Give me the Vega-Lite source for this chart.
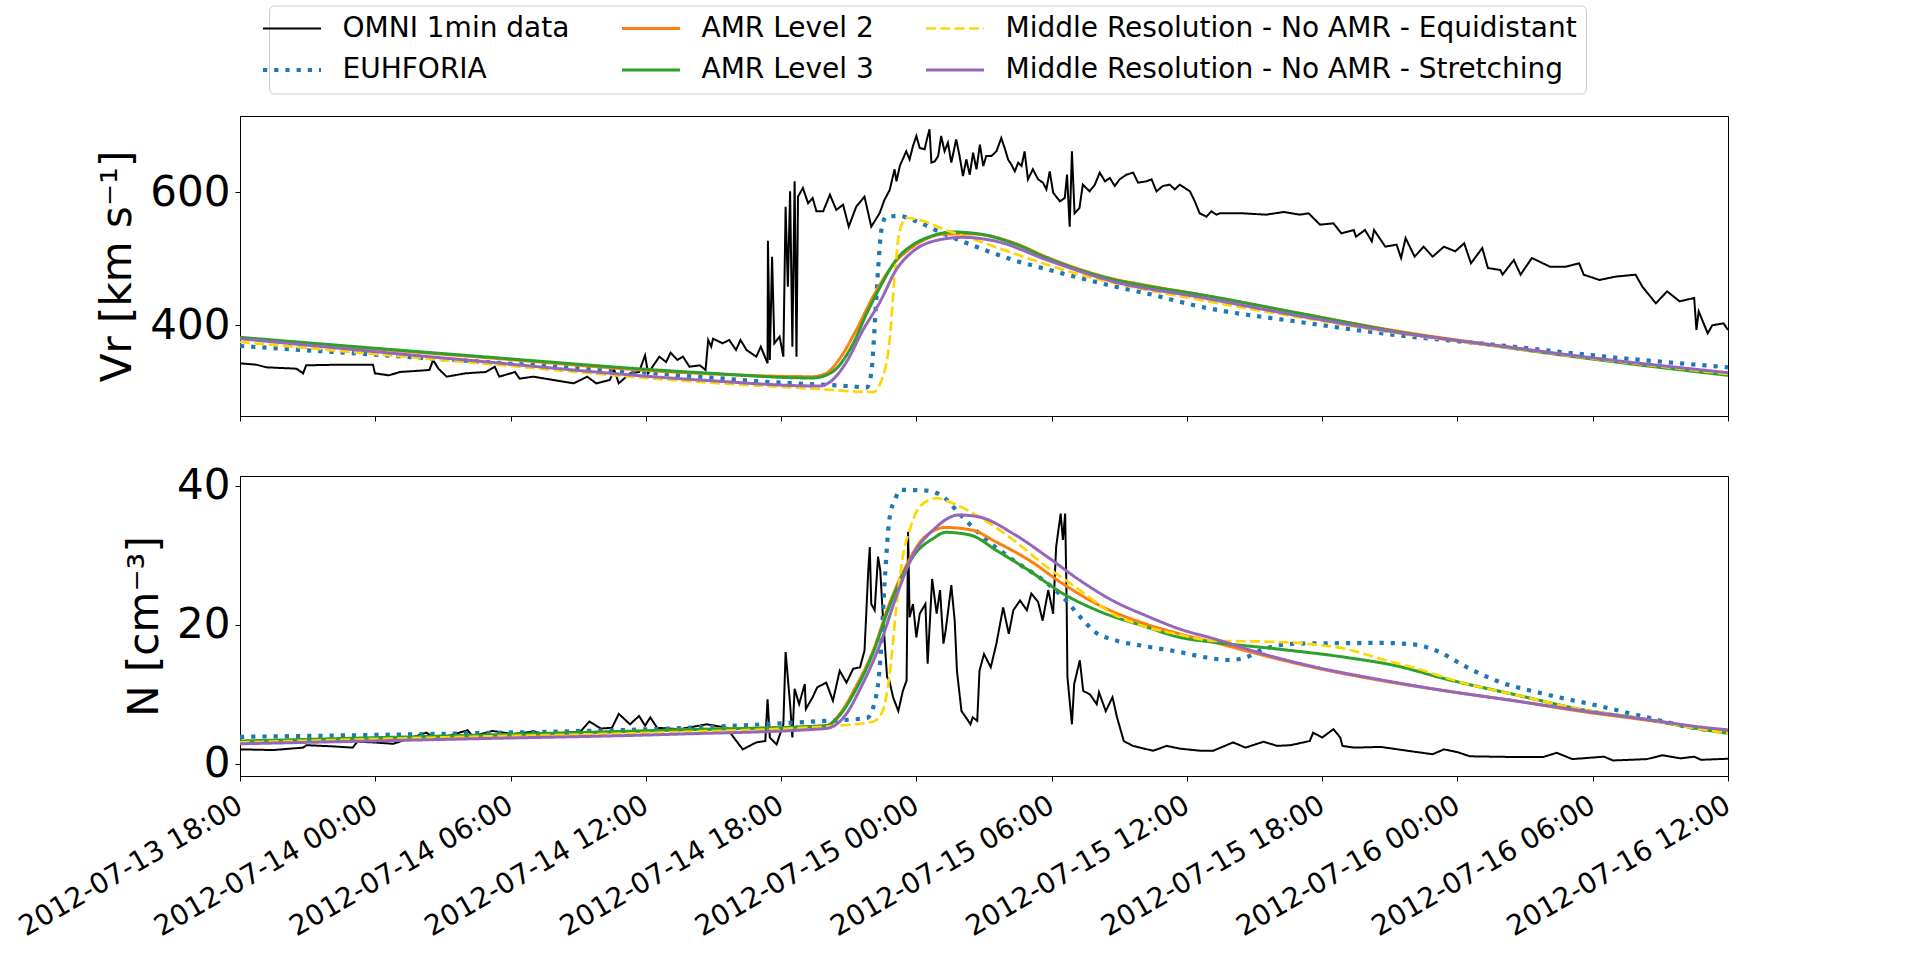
{
"$schema": "https://vega.github.io/schema/vega-lite/v6.json",
"padding": {"left": 13, "top": 5, "right": 5, "bottom": 5},
"background": "white",
"spacing": 60,
"bounds": "flush",
"config": {
 "font": "DejaVu Sans",
 "view": {"stroke": "black", "strokeWidth": 1},
 "axis": {"grid": false, "domainColor": "black", "domainWidth": 1, "tickColor": "black", "tickWidth": 1, "tickSize": 5, "labelColor": "black", "titleColor": "black", "labelFont": "DejaVu Sans", "titleFont": "DejaVu Sans", "titleFontWeight": "normal", "labelFlush": false, "labelOverlap": false, "labelLimit": 1000},
 "line": {"strokeCap": "butt"}
},
"datasets": {
 "names": [
  {"c":"o","name":"OMNI 1min data"},
  {"c":"e","name":"EUHFORIA"},
  {"c":"a2","name":"AMR Level 2"},
  {"c":"a3","name":"AMR Level 3"},
  {"c":"eq","name":"Middle Resolution - No AMR - Equidistant"},
  {"c":"st","name":"Middle Resolution - No AMR - Stretching"}
 ],
 "vr": [
  {"c":"o","t":"2012-07-13T18:00Z","v":343},{"c":"o","t":"2012-07-13T18:43Z","v":341},{"c":"o","t":"2012-07-13T19:10Z","v":337},{"c":"o","t":"2012-07-13T20:30Z","v":335},{"c":"o","t":"2012-07-13T20:48Z","v":328},{"c":"o","t":"2012-07-13T20:56Z","v":340},{"c":"o","t":"2012-07-13T22:24Z","v":341},{"c":"o","t":"2012-07-13T23:54Z","v":341},{"c":"o","t":"2012-07-13T23:59Z","v":328},
  {"c":"o","t":"2012-07-14T00:36Z","v":325},{"c":"o","t":"2012-07-14T01:06Z","v":330},{"c":"o","t":"2012-07-14T02:24Z","v":333},{"c":"o","t":"2012-07-14T02:34Z","v":348},{"c":"o","t":"2012-07-14T02:48Z","v":335},{"c":"o","t":"2012-07-14T03:10Z","v":323},{"c":"o","t":"2012-07-14T04:00Z","v":328},{"c":"o","t":"2012-07-14T04:54Z","v":330},{"c":"o","t":"2012-07-14T05:18Z","v":338},{"c":"o","t":"2012-07-14T05:30Z","v":323},{"c":"o","t":"2012-07-14T06:12Z","v":330},{"c":"o","t":"2012-07-14T06:24Z","v":320},{"c":"o","t":"2012-07-14T07:00Z","v":323},{"c":"o","t":"2012-07-14T07:54Z","v":318},{"c":"o","t":"2012-07-14T08:48Z","v":313},{"c":"o","t":"2012-07-14T09:24Z","v":323},{"c":"o","t":"2012-07-14T09:48Z","v":313},{"c":"o","t":"2012-07-14T10:24Z","v":318},{"c":"o","t":"2012-07-14T10:36Z","v":333},{"c":"o","t":"2012-07-14T10:48Z","v":313},{"c":"o","t":"2012-07-14T11:18Z","v":328},{"c":"o","t":"2012-07-14T11:42Z","v":330},{"c":"o","t":"2012-07-14T11:58Z","v":355},{"c":"o","t":"2012-07-14T12:06Z","v":328},{"c":"o","t":"2012-07-14T12:36Z","v":353},{"c":"o","t":"2012-07-14T12:54Z","v":345},{"c":"o","t":"2012-07-14T13:06Z","v":359},{"c":"o","t":"2012-07-14T13:24Z","v":348},{"c":"o","t":"2012-07-14T13:39Z","v":353},{"c":"o","t":"2012-07-14T13:56Z","v":338},{"c":"o","t":"2012-07-14T14:24Z","v":340},{"c":"o","t":"2012-07-14T14:39Z","v":333},{"c":"o","t":"2012-07-14T14:46Z","v":378},{"c":"o","t":"2012-07-14T14:54Z","v":368},{"c":"o","t":"2012-07-14T14:59Z","v":380},{"c":"o","t":"2012-07-14T15:24Z","v":373},{"c":"o","t":"2012-07-14T15:42Z","v":378},{"c":"o","t":"2012-07-14T16:00Z","v":363},{"c":"o","t":"2012-07-14T16:12Z","v":378},{"c":"o","t":"2012-07-14T16:28Z","v":363},{"c":"o","t":"2012-07-14T16:54Z","v":353},{"c":"o","t":"2012-07-14T17:06Z","v":368},{"c":"o","t":"2012-07-14T17:24Z","v":343},{"c":"o","t":"2012-07-14T17:25Z","v":527},{"c":"o","t":"2012-07-14T17:30Z","v":348},{"c":"o","t":"2012-07-14T17:36Z","v":503},{"c":"o","t":"2012-07-14T17:42Z","v":373},{"c":"o","t":"2012-07-14T17:56Z","v":383},{"c":"o","t":"2012-07-14T18:06Z","v":353},{"c":"o","t":"2012-07-14T18:12Z","v":578},{"c":"o","t":"2012-07-14T18:18Z","v":458},{"c":"o","t":"2012-07-14T18:24Z","v":601},{"c":"o","t":"2012-07-14T18:30Z","v":368},{"c":"o","t":"2012-07-14T18:36Z","v":616},{"c":"o","t":"2012-07-14T18:41Z","v":353},{"c":"o","t":"2012-07-14T18:45Z","v":593},{"c":"o","t":"2012-07-14T18:58Z","v":606},{"c":"o","t":"2012-07-14T19:12Z","v":583},{"c":"o","t":"2012-07-14T19:24Z","v":591},{"c":"o","t":"2012-07-14T19:34Z","v":571},{"c":"o","t":"2012-07-14T19:52Z","v":571},{"c":"o","t":"2012-07-14T20:10Z","v":596},{"c":"o","t":"2012-07-14T20:27Z","v":573},{"c":"o","t":"2012-07-14T20:45Z","v":581},{"c":"o","t":"2012-07-14T21:00Z","v":548},{"c":"o","t":"2012-07-14T21:20Z","v":578},{"c":"o","t":"2012-07-14T21:42Z","v":593},{"c":"o","t":"2012-07-14T22:00Z","v":548},
  {"c":"o","t":"2012-07-14T22:22Z","v":568},{"c":"o","t":"2012-07-14T22:35Z","v":588},{"c":"o","t":"2012-07-14T22:49Z","v":603},{"c":"o","t":"2012-07-14T23:02Z","v":634},{"c":"o","t":"2012-07-14T23:07Z","v":616},{"c":"o","t":"2012-07-14T23:16Z","v":639},{"c":"o","t":"2012-07-14T23:33Z","v":661},{"c":"o","t":"2012-07-14T23:42Z","v":649},{"c":"o","t":"2012-07-14T23:51Z","v":669},
  {"c":"o","t":"2012-07-15T00:00Z","v":684},{"c":"o","t":"2012-07-15T00:09Z","v":666},{"c":"o","t":"2012-07-15T00:22Z","v":664},{"c":"o","t":"2012-07-15T00:28Z","v":679},{"c":"o","t":"2012-07-15T00:35Z","v":694},{"c":"o","t":"2012-07-15T00:40Z","v":644},{"c":"o","t":"2012-07-15T00:49Z","v":646},{"c":"o","t":"2012-07-15T00:58Z","v":654},{"c":"o","t":"2012-07-15T01:06Z","v":684},{"c":"o","t":"2012-07-15T01:15Z","v":661},{"c":"o","t":"2012-07-15T01:24Z","v":674},{"c":"o","t":"2012-07-15T01:33Z","v":644},{"c":"o","t":"2012-07-15T01:46Z","v":679},{"c":"o","t":"2012-07-15T01:55Z","v":654},{"c":"o","t":"2012-07-15T02:04Z","v":624},{"c":"o","t":"2012-07-15T02:13Z","v":649},{"c":"o","t":"2012-07-15T02:22Z","v":626},{"c":"o","t":"2012-07-15T02:31Z","v":659},{"c":"o","t":"2012-07-15T02:40Z","v":634},{"c":"o","t":"2012-07-15T02:49Z","v":671},{"c":"o","t":"2012-07-15T02:58Z","v":639},{"c":"o","t":"2012-07-15T03:06Z","v":654},{"c":"o","t":"2012-07-15T03:20Z","v":654},{"c":"o","t":"2012-07-15T03:33Z","v":661},{"c":"o","t":"2012-07-15T03:46Z","v":681},{"c":"o","t":"2012-07-15T03:55Z","v":666},{"c":"o","t":"2012-07-15T04:04Z","v":649},{"c":"o","t":"2012-07-15T04:13Z","v":641},{"c":"o","t":"2012-07-15T04:22Z","v":631},{"c":"o","t":"2012-07-15T04:31Z","v":644},{"c":"o","t":"2012-07-15T04:40Z","v":639},{"c":"o","t":"2012-07-15T04:48Z","v":661},{"c":"o","t":"2012-07-15T04:57Z","v":619},{"c":"o","t":"2012-07-15T05:10Z","v":634},{"c":"o","t":"2012-07-15T05:24Z","v":619},{"c":"o","t":"2012-07-15T05:37Z","v":614},{"c":"o","t":"2012-07-15T05:46Z","v":604},{"c":"o","t":"2012-07-15T05:55Z","v":631},{"c":"o","t":"2012-07-15T06:04Z","v":599},{"c":"o","t":"2012-07-15T06:22Z","v":586},{"c":"o","t":"2012-07-15T06:35Z","v":591},{"c":"o","t":"2012-07-15T06:41Z","v":626},{"c":"o","t":"2012-07-15T06:48Z","v":548},{"c":"o","t":"2012-07-15T06:54Z","v":661},{"c":"o","t":"2012-07-15T07:01Z","v":568},{"c":"o","t":"2012-07-15T07:14Z","v":576},{"c":"o","t":"2012-07-15T07:23Z","v":611},{"c":"o","t":"2012-07-15T07:41Z","v":601},{"c":"o","t":"2012-07-15T07:55Z","v":611},{"c":"o","t":"2012-07-15T08:08Z","v":629},{"c":"o","t":"2012-07-15T08:22Z","v":616},{"c":"o","t":"2012-07-15T08:35Z","v":621},{"c":"o","t":"2012-07-15T08:48Z","v":609},{"c":"o","t":"2012-07-15T09:01Z","v":619},{"c":"o","t":"2012-07-15T09:19Z","v":626},{"c":"o","t":"2012-07-15T09:37Z","v":629},{"c":"o","t":"2012-07-15T09:50Z","v":614},{"c":"o","t":"2012-07-15T10:12Z","v":616},{"c":"o","t":"2012-07-15T10:26Z","v":619},{"c":"o","t":"2012-07-15T10:39Z","v":601},{"c":"o","t":"2012-07-15T10:56Z","v":609},{"c":"o","t":"2012-07-15T11:14Z","v":611},{"c":"o","t":"2012-07-15T11:28Z","v":604},{"c":"o","t":"2012-07-15T11:41Z","v":611},{"c":"o","t":"2012-07-15T12:08Z","v":601},{"c":"o","t":"2012-07-15T12:21Z","v":586},{"c":"o","t":"2012-07-15T12:34Z","v":568},{"c":"o","t":"2012-07-15T12:52Z","v":563},{"c":"o","t":"2012-07-15T13:05Z","v":571},{"c":"o","t":"2012-07-15T13:19Z","v":566},{"c":"o","t":"2012-07-15T13:28Z","v":568},{"c":"o","t":"2012-07-15T14:30Z","v":568},{"c":"o","t":"2012-07-15T15:30Z","v":566},{"c":"o","t":"2012-07-15T16:18Z","v":570},{"c":"o","t":"2012-07-15T17:00Z","v":566},{"c":"o","t":"2012-07-15T17:24Z","v":568},{"c":"o","t":"2012-07-15T17:54Z","v":551},{"c":"o","t":"2012-07-15T18:30Z","v":553},{"c":"o","t":"2012-07-15T18:51Z","v":538},{"c":"o","t":"2012-07-15T19:24Z","v":543},{"c":"o","t":"2012-07-15T19:30Z","v":533},{"c":"o","t":"2012-07-15T19:54Z","v":543},{"c":"o","t":"2012-07-15T20:12Z","v":526},{"c":"o","t":"2012-07-15T20:18Z","v":543},{"c":"o","t":"2012-07-15T20:48Z","v":518},{"c":"o","t":"2012-07-15T21:18Z","v":521},{"c":"o","t":"2012-07-15T21:30Z","v":501},{"c":"o","t":"2012-07-15T21:42Z","v":531},{"c":"o","t":"2012-07-15T22:06Z","v":503},{"c":"o","t":"2012-07-15T22:30Z","v":518},{"c":"o","t":"2012-07-15T22:54Z","v":503},{"c":"o","t":"2012-07-15T23:24Z","v":518},{"c":"o","t":"2012-07-15T23:54Z","v":511},
  {"c":"o","t":"2012-07-16T00:18Z","v":523},{"c":"o","t":"2012-07-16T00:36Z","v":493},{"c":"o","t":"2012-07-16T01:06Z","v":516},{"c":"o","t":"2012-07-16T01:21Z","v":486},{"c":"o","t":"2012-07-16T01:54Z","v":483},{"c":"o","t":"2012-07-16T02:00Z","v":476},{"c":"o","t":"2012-07-16T02:30Z","v":498},{"c":"o","t":"2012-07-16T02:48Z","v":476},{"c":"o","t":"2012-07-16T03:18Z","v":501},{"c":"o","t":"2012-07-16T04:06Z","v":488},{"c":"o","t":"2012-07-16T04:48Z","v":488},{"c":"o","t":"2012-07-16T05:24Z","v":493},{"c":"o","t":"2012-07-16T05:36Z","v":476},{"c":"o","t":"2012-07-16T06:18Z","v":468},{"c":"o","t":"2012-07-16T07:00Z","v":473},{"c":"o","t":"2012-07-16T07:54Z","v":476},{"c":"o","t":"2012-07-16T08:12Z","v":458},{"c":"o","t":"2012-07-16T08:48Z","v":433},{"c":"o","t":"2012-07-16T09:18Z","v":451},{"c":"o","t":"2012-07-16T09:51Z","v":436},{"c":"o","t":"2012-07-16T10:30Z","v":441},{"c":"o","t":"2012-07-16T10:36Z","v":393},{"c":"o","t":"2012-07-16T10:42Z","v":421},{"c":"o","t":"2012-07-16T11:06Z","v":388},{"c":"o","t":"2012-07-16T11:18Z","v":400},{"c":"o","t":"2012-07-16T11:48Z","v":403},{"c":"o","t":"2012-07-16T12:00Z","v":393},

  {"c":"e","t":"2012-07-13T18:00Z","v":369},{"c":"e","t":"2012-07-14T04:00Z","v":347},{"c":"e","t":"2012-07-14T14:24Z","v":323},{"c":"e","t":"2012-07-14T17:00Z","v":316},{"c":"e","t":"2012-07-14T20:54Z","v":309},{"c":"e","t":"2012-07-14T21:48Z","v":307},{"c":"e","t":"2012-07-14T22:00Z","v":328},{"c":"e","t":"2012-07-14T22:09Z","v":398},{"c":"e","t":"2012-07-14T22:18Z","v":483},{"c":"e","t":"2012-07-14T22:27Z","v":543},{"c":"e","t":"2012-07-14T22:40Z","v":563},{"c":"e","t":"2012-07-14T23:16Z","v":564},{"c":"e","t":"2012-07-14T23:51Z","v":558},{"c":"e","t":"2012-07-15T01:18Z","v":536},{"c":"e","t":"2012-07-15T02:48Z","v":516},{"c":"e","t":"2012-07-15T04:18Z","v":498},{"c":"e","t":"2012-07-15T05:48Z","v":484},{"c":"e","t":"2012-07-15T07:15Z","v":471},{"c":"e","t":"2012-07-15T08:42Z","v":459},{"c":"e","t":"2012-07-15T10:12Z","v":448},{"c":"e","t":"2012-07-15T12:36Z","v":428},{"c":"e","t":"2012-07-15T17:00Z","v":405},{"c":"e","t":"2012-07-15T21:24Z","v":385},{"c":"e","t":"2012-07-16T01:54Z","v":370},{"c":"e","t":"2012-07-16T06:18Z","v":354},{"c":"e","t":"2012-07-16T12:00Z","v":337},

  {"c":"a2","t":"2012-07-13T18:00Z","v":381},{"c":"a2","t":"2012-07-14T04:00Z","v":354},{"c":"a2","t":"2012-07-14T14:24Z","v":328},{"c":"a2","t":"2012-07-14T19:24Z","v":323},{"c":"a2","t":"2012-07-14T20:00Z","v":328},{"c":"a2","t":"2012-07-14T20:36Z","v":350},{"c":"a2","t":"2012-07-14T21:20Z","v":393},{"c":"a2","t":"2012-07-14T22:05Z","v":443},{"c":"a2","t":"2012-07-14T22:58Z","v":491},{"c":"a2","t":"2012-07-14T23:51Z","v":518},{"c":"a2","t":"2012-07-15T01:18Z","v":537},{"c":"a2","t":"2012-07-15T02:30Z","v":537},{"c":"a2","t":"2012-07-15T04:18Z","v":524},{"c":"a2","t":"2012-07-15T05:48Z","v":502},{"c":"a2","t":"2012-07-15T07:15Z","v":484},{"c":"a2","t":"2012-07-15T08:42Z","v":470},{"c":"a2","t":"2012-07-15T10:12Z","v":460},{"c":"a2","t":"2012-07-15T12:36Z","v":446},{"c":"a2","t":"2012-07-15T17:00Z","v":418},{"c":"a2","t":"2012-07-15T21:24Z","v":391},{"c":"a2","t":"2012-07-16T01:54Z","v":369},{"c":"a2","t":"2012-07-16T06:18Z","v":349},{"c":"a2","t":"2012-07-16T12:00Z","v":327},

  {"c":"a3","t":"2012-07-13T18:00Z","v":382},{"c":"a3","t":"2012-07-14T04:00Z","v":355},{"c":"a3","t":"2012-07-14T14:24Z","v":329},{"c":"a3","t":"2012-07-14T19:24Z","v":321},{"c":"a3","t":"2012-07-14T19:54Z","v":324},{"c":"a3","t":"2012-07-14T20:27Z","v":335},{"c":"a3","t":"2012-07-14T21:12Z","v":373},{"c":"a3","t":"2012-07-14T21:48Z","v":418},{"c":"a3","t":"2012-07-14T22:24Z","v":458},{"c":"a3","t":"2012-07-14T23:06Z","v":498},{"c":"a3","t":"2012-07-14T23:51Z","v":521},{"c":"a3","t":"2012-07-15T00:36Z","v":533},{"c":"a3","t":"2012-07-15T01:36Z","v":540},{"c":"a3","t":"2012-07-15T02:48Z","v":537},{"c":"a3","t":"2012-07-15T04:18Z","v":523},{"c":"a3","t":"2012-07-15T05:48Z","v":501},{"c":"a3","t":"2012-07-15T07:15Z","v":483},{"c":"a3","t":"2012-07-15T08:42Z","v":469},{"c":"a3","t":"2012-07-15T10:12Z","v":459},{"c":"a3","t":"2012-07-15T12:36Z","v":446},{"c":"a3","t":"2012-07-15T17:00Z","v":418},{"c":"a3","t":"2012-07-15T21:24Z","v":390},{"c":"a3","t":"2012-07-16T01:54Z","v":368},{"c":"a3","t":"2012-07-16T06:18Z","v":348},{"c":"a3","t":"2012-07-16T12:00Z","v":325},

  {"c":"eq","t":"2012-07-13T18:00Z","v":375},{"c":"eq","t":"2012-07-14T04:00Z","v":345},{"c":"eq","t":"2012-07-14T14:24Z","v":315},{"c":"eq","t":"2012-07-14T19:24Z","v":305},{"c":"eq","t":"2012-07-14T22:05Z","v":300},{"c":"eq","t":"2012-07-14T22:24Z","v":313},{"c":"eq","t":"2012-07-14T22:48Z","v":373},{"c":"eq","t":"2012-07-14T23:02Z","v":473},{"c":"eq","t":"2012-07-14T23:16Z","v":543},{"c":"eq","t":"2012-07-14T23:34Z","v":561},{"c":"eq","t":"2012-07-15T00:09Z","v":558},{"c":"eq","t":"2012-07-15T01:18Z","v":543},{"c":"eq","t":"2012-07-15T02:48Z","v":526},{"c":"eq","t":"2012-07-15T04:18Z","v":508},{"c":"eq","t":"2012-07-15T05:48Z","v":491},{"c":"eq","t":"2012-07-15T07:15Z","v":476},{"c":"eq","t":"2012-07-15T08:42Z","v":464},{"c":"eq","t":"2012-07-15T12:36Z","v":438},{"c":"eq","t":"2012-07-15T17:00Z","v":412},{"c":"eq","t":"2012-07-15T21:24Z","v":388},{"c":"eq","t":"2012-07-16T01:54Z","v":368},{"c":"eq","t":"2012-07-16T06:18Z","v":349},{"c":"eq","t":"2012-07-16T12:00Z","v":327},

  {"c":"st","t":"2012-07-13T18:00Z","v":380},{"c":"st","t":"2012-07-14T04:00Z","v":348},{"c":"st","t":"2012-07-14T14:24Z","v":318},{"c":"st","t":"2012-07-14T19:42Z","v":309},{"c":"st","t":"2012-07-14T20:10Z","v":315},{"c":"st","t":"2012-07-14T20:54Z","v":345},{"c":"st","t":"2012-07-14T21:36Z","v":391},{"c":"st","t":"2012-07-14T22:24Z","v":436},{"c":"st","t":"2012-07-14T23:06Z","v":483},{"c":"st","t":"2012-07-14T23:51Z","v":511},{"c":"st","t":"2012-07-15T00:44Z","v":526},{"c":"st","t":"2012-07-15T02:04Z","v":532},{"c":"st","t":"2012-07-15T03:33Z","v":526},{"c":"st","t":"2012-07-15T05:48Z","v":498},{"c":"st","t":"2012-07-15T08:42Z","v":466},{"c":"st","t":"2012-07-15T12:36Z","v":442},{"c":"st","t":"2012-07-15T17:00Z","v":414},{"c":"st","t":"2012-07-15T21:24Z","v":389},{"c":"st","t":"2012-07-16T01:54Z","v":369},{"c":"st","t":"2012-07-16T06:18Z","v":350},{"c":"st","t":"2012-07-16T12:00Z","v":329}
 ],
 "nd": [
  {"c":"o","t":"2012-07-13T18:00Z","n":2.1},{"c":"o","t":"2012-07-13T19:28Z","n":2.0},{"c":"o","t":"2012-07-13T20:48Z","n":2.35},{"c":"o","t":"2012-07-13T20:57Z","n":2.7},{"c":"o","t":"2012-07-13T21:59Z","n":2.55},{"c":"o","t":"2012-07-13T23:00Z","n":2.35},{"c":"o","t":"2012-07-13T23:12Z","n":3.2},{"c":"o","t":"2012-07-13T23:54Z","n":3.1},
  {"c":"o","t":"2012-07-14T00:48Z","n":2.9},{"c":"o","t":"2012-07-14T02:16Z","n":4.5},{"c":"o","t":"2012-07-14T02:30Z","n":4.0},{"c":"o","t":"2012-07-14T03:12Z","n":4.0},{"c":"o","t":"2012-07-14T04:06Z","n":4.85},{"c":"o","t":"2012-07-14T04:18Z","n":4.0},{"c":"o","t":"2012-07-14T05:12Z","n":4.75},{"c":"o","t":"2012-07-14T06:06Z","n":4.3},{"c":"o","t":"2012-07-14T07:00Z","n":4.65},{"c":"o","t":"2012-07-14T07:36Z","n":4.3},{"c":"o","t":"2012-07-14T09:06Z","n":4.65},{"c":"o","t":"2012-07-14T09:30Z","n":6.1},{"c":"o","t":"2012-07-14T10:00Z","n":5.1},{"c":"o","t":"2012-07-14T10:30Z","n":5.2},{"c":"o","t":"2012-07-14T10:48Z","n":7.2},{"c":"o","t":"2012-07-14T11:18Z","n":5.7},{"c":"o","t":"2012-07-14T11:42Z","n":6.9},{"c":"o","t":"2012-07-14T11:58Z","n":5.5},{"c":"o","t":"2012-07-14T12:12Z","n":6.7},{"c":"o","t":"2012-07-14T12:30Z","n":5.2},{"c":"o","t":"2012-07-14T13:30Z","n":5.0},{"c":"o","t":"2012-07-14T14:42Z","n":5.7},{"c":"o","t":"2012-07-14T15:36Z","n":5.2},{"c":"o","t":"2012-07-14T15:54Z","n":3.8},{"c":"o","t":"2012-07-14T16:18Z","n":2.1},{"c":"o","t":"2012-07-14T16:54Z","n":3.1},{"c":"o","t":"2012-07-14T17:18Z","n":3.3},{"c":"o","t":"2012-07-14T17:24Z","n":9.3},{"c":"o","t":"2012-07-14T17:30Z","n":3.8},{"c":"o","t":"2012-07-14T17:48Z","n":2.8},{"c":"o","t":"2012-07-14T18:06Z","n":5.7},{"c":"o","t":"2012-07-14T18:12Z","n":16.1},{"c":"o","t":"2012-07-14T18:24Z","n":8.6},{"c":"o","t":"2012-07-14T18:30Z","n":3.8},{"c":"o","t":"2012-07-14T18:36Z","n":10.8},{"c":"o","t":"2012-07-14T18:48Z","n":8.6},{"c":"o","t":"2012-07-14T19:03Z","n":11.5},{"c":"o","t":"2012-07-14T19:06Z","n":7.9},{"c":"o","t":"2012-07-14T19:24Z","n":9.6},{"c":"o","t":"2012-07-14T19:36Z","n":11.0},{"c":"o","t":"2012-07-14T20:00Z","n":11.7},{"c":"o","t":"2012-07-14T20:18Z","n":9.1},{"c":"o","t":"2012-07-14T20:36Z","n":13.4},{"c":"o","t":"2012-07-14T20:54Z","n":11.7},{"c":"o","t":"2012-07-14T21:12Z","n":13.7},{"c":"o","t":"2012-07-14T21:30Z","n":13.9},{"c":"o","t":"2012-07-14T21:42Z","n":16.3},{"c":"o","t":"2012-07-14T21:52Z","n":27.8},{"c":"o","t":"2012-07-14T21:56Z","n":31.2},{"c":"o","t":"2012-07-14T22:00Z","n":23.0},{"c":"o","t":"2012-07-14T22:09Z","n":22.1},{"c":"o","t":"2012-07-14T22:18Z","n":29.8},{"c":"o","t":"2012-07-14T22:24Z","n":27.8},{"c":"o","t":"2012-07-14T22:30Z","n":22.1},{"c":"o","t":"2012-07-14T22:42Z","n":12.5},{"c":"o","t":"2012-07-14T22:48Z","n":12.0},{"c":"o","t":"2012-07-14T22:58Z","n":9.6},{"c":"o","t":"2012-07-14T23:12Z","n":7.6},{"c":"o","t":"2012-07-14T23:24Z","n":10.5},{"c":"o","t":"2012-07-14T23:34Z","n":12.0},{"c":"o","t":"2012-07-14T23:38Z","n":33.4},{"c":"o","t":"2012-07-14T23:42Z","n":21.1},{"c":"o","t":"2012-07-14T23:51Z","n":23.0},
  {"c":"o","t":"2012-07-15T00:00Z","n":18.2},{"c":"o","t":"2012-07-15T00:09Z","n":21.6},{"c":"o","t":"2012-07-15T00:24Z","n":23.0},{"c":"o","t":"2012-07-15T00:30Z","n":14.4},{"c":"o","t":"2012-07-15T00:42Z","n":26.6},{"c":"o","t":"2012-07-15T00:54Z","n":21.6},{"c":"o","t":"2012-07-15T01:03Z","n":25.0},{"c":"o","t":"2012-07-15T01:12Z","n":17.3},{"c":"o","t":"2012-07-15T01:18Z","n":19.2},{"c":"o","t":"2012-07-15T01:33Z","n":25.7},{"c":"o","t":"2012-07-15T01:42Z","n":20.6},{"c":"o","t":"2012-07-15T01:48Z","n":13.4},{"c":"o","t":"2012-07-15T02:00Z","n":7.6},{"c":"o","t":"2012-07-15T02:12Z","n":6.7},{"c":"o","t":"2012-07-15T02:24Z","n":5.7},{"c":"o","t":"2012-07-15T02:30Z","n":6.7},{"c":"o","t":"2012-07-15T02:42Z","n":6.2},{"c":"o","t":"2012-07-15T02:48Z","n":13.4},{"c":"o","t":"2012-07-15T03:00Z","n":15.8},{"c":"o","t":"2012-07-15T03:18Z","n":13.9},{"c":"o","t":"2012-07-15T03:33Z","n":17.3},{"c":"o","t":"2012-07-15T03:51Z","n":22.5},{"c":"o","t":"2012-07-15T04:06Z","n":18.7},{"c":"o","t":"2012-07-15T04:18Z","n":22.1},{"c":"o","t":"2012-07-15T04:36Z","n":23.5},{"c":"o","t":"2012-07-15T04:54Z","n":22.1},{"c":"o","t":"2012-07-15T05:06Z","n":24.5},{"c":"o","t":"2012-07-15T05:24Z","n":23.3},{"c":"o","t":"2012-07-15T05:36Z","n":20.6},{"c":"o","t":"2012-07-15T05:51Z","n":25.0},{"c":"o","t":"2012-07-15T06:04Z","n":21.6},{"c":"o","t":"2012-07-15T06:12Z","n":31.2},{"c":"o","t":"2012-07-15T06:24Z","n":36.0},{"c":"o","t":"2012-07-15T06:30Z","n":32.2},{"c":"o","t":"2012-07-15T06:36Z","n":36.0},{"c":"o","t":"2012-07-15T06:40Z","n":23.0},{"c":"o","t":"2012-07-15T06:42Z","n":12.5},{"c":"o","t":"2012-07-15T06:54Z","n":5.7},{"c":"o","t":"2012-07-15T07:00Z","n":11.5},{"c":"o","t":"2012-07-15T07:15Z","n":14.9},{"c":"o","t":"2012-07-15T07:24Z","n":10.5},{"c":"o","t":"2012-07-15T07:42Z","n":10.0},{"c":"o","t":"2012-07-15T08:00Z","n":8.6},{"c":"o","t":"2012-07-15T08:06Z","n":10.3},{"c":"o","t":"2012-07-15T08:24Z","n":7.6},{"c":"o","t":"2012-07-15T08:42Z","n":9.6},{"c":"o","t":"2012-07-15T08:54Z","n":6.7},{"c":"o","t":"2012-07-15T09:12Z","n":3.3},{"c":"o","t":"2012-07-15T09:36Z","n":2.6},{"c":"o","t":"2012-07-15T10:30Z","n":1.9},{"c":"o","t":"2012-07-15T11:06Z","n":2.6},{"c":"o","t":"2012-07-15T11:42Z","n":2.2},{"c":"o","t":"2012-07-15T12:36Z","n":1.9},{"c":"o","t":"2012-07-15T13:10Z","n":1.9},{"c":"o","t":"2012-07-15T14:03Z","n":3.1},{"c":"o","t":"2012-07-15T14:36Z","n":2.35},{"c":"o","t":"2012-07-15T15:24Z","n":3.2},{"c":"o","t":"2012-07-15T16:00Z","n":2.6},{"c":"o","t":"2012-07-15T16:36Z","n":2.7},{"c":"o","t":"2012-07-15T17:27Z","n":3.3},{"c":"o","t":"2012-07-15T17:36Z","n":4.5},{"c":"o","t":"2012-07-15T18:00Z","n":3.8},{"c":"o","t":"2012-07-15T18:30Z","n":5.0},{"c":"o","t":"2012-07-15T18:48Z","n":3.8},{"c":"o","t":"2012-07-15T18:54Z","n":2.6},{"c":"o","t":"2012-07-15T19:24Z","n":2.35},{"c":"o","t":"2012-07-15T20:36Z","n":2.45},{"c":"o","t":"2012-07-15T22:00Z","n":1.8},{"c":"o","t":"2012-07-15T22:54Z","n":1.4},{"c":"o","t":"2012-07-15T23:24Z","n":2.1},
  {"c":"o","t":"2012-07-16T00:00Z","n":1.7},{"c":"o","t":"2012-07-16T00:33Z","n":1.1},{"c":"o","t":"2012-07-16T02:30Z","n":1.0},{"c":"o","t":"2012-07-16T03:48Z","n":1.0},{"c":"o","t":"2012-07-16T04:24Z","n":1.6},{"c":"o","t":"2012-07-16T05:06Z","n":0.7},{"c":"o","t":"2012-07-16T06:30Z","n":1.05},{"c":"o","t":"2012-07-16T06:54Z","n":0.5},{"c":"o","t":"2012-07-16T08:24Z","n":0.7},{"c":"o","t":"2012-07-16T09:06Z","n":1.25},{"c":"o","t":"2012-07-16T09:54Z","n":0.8},{"c":"o","t":"2012-07-16T10:30Z","n":1.05},{"c":"o","t":"2012-07-16T10:48Z","n":0.6},{"c":"o","t":"2012-07-16T12:00Z","n":0.75},

  {"c":"e","t":"2012-07-13T18:00Z","n":3.9},{"c":"e","t":"2012-07-14T04:00Z","n":4.4},{"c":"e","t":"2012-07-14T13:30Z","n":5.15},{"c":"e","t":"2012-07-14T19:24Z","n":6.1},{"c":"e","t":"2012-07-14T21:48Z","n":6.6},{"c":"e","t":"2012-07-14T22:05Z","n":8.1},{"c":"e","t":"2012-07-14T22:24Z","n":14.9},{"c":"e","t":"2012-07-14T22:36Z","n":26.4},{"c":"e","t":"2012-07-14T22:48Z","n":35.1},{"c":"e","t":"2012-07-14T23:06Z","n":38.4},{"c":"e","t":"2012-07-14T23:18Z","n":39.4},{"c":"e","t":"2012-07-15T00:27Z","n":39.3},{"c":"e","t":"2012-07-15T01:12Z","n":38.4},{"c":"e","t":"2012-07-15T01:54Z","n":36.0},{"c":"e","t":"2012-07-15T02:48Z","n":33.1},{"c":"e","t":"2012-07-15T04:18Z","n":29.3},{"c":"e","t":"2012-07-15T05:48Z","n":26.0},{"c":"e","t":"2012-07-15T06:30Z","n":24.0},{"c":"e","t":"2012-07-15T07:15Z","n":21.2},{"c":"e","t":"2012-07-15T08:00Z","n":18.8},{"c":"e","t":"2012-07-15T08:42Z","n":17.9},{"c":"e","t":"2012-07-15T10:12Z","n":16.9},{"c":"e","t":"2012-07-15T11:41Z","n":16.1},{"c":"e","t":"2012-07-15T12:52Z","n":15.3},{"c":"e","t":"2012-07-15T13:54Z","n":14.95},{"c":"e","t":"2012-07-15T14:36Z","n":15.3},{"c":"e","t":"2012-07-15T15:24Z","n":16.5},{"c":"e","t":"2012-07-15T16:54Z","n":17.3},{"c":"e","t":"2012-07-15T18:18Z","n":17.35},{"c":"e","t":"2012-07-15T20:36Z","n":17.4},{"c":"e","t":"2012-07-15T22:00Z","n":17.2},{"c":"e","t":"2012-07-15T23:12Z","n":16.1},{"c":"e","t":"2012-07-16T00:18Z","n":14.1},{"c":"e","t":"2012-07-16T01:42Z","n":12.0},{"c":"e","t":"2012-07-16T03:57Z","n":10.0},{"c":"e","t":"2012-07-16T06:12Z","n":8.4},{"c":"e","t":"2012-07-16T08:24Z","n":6.7},{"c":"e","t":"2012-07-16T10:48Z","n":5.0},{"c":"e","t":"2012-07-16T12:00Z","n":4.6},

  {"c":"a2","t":"2012-07-13T18:00Z","n":3.1},{"c":"a2","t":"2012-07-14T04:00Z","n":3.9},{"c":"a2","t":"2012-07-14T13:30Z","n":4.9},{"c":"a2","t":"2012-07-14T20:00Z","n":5.5},{"c":"a2","t":"2012-07-14T20:36Z","n":7.2},{"c":"a2","t":"2012-07-14T21:18Z","n":11.0},{"c":"a2","t":"2012-07-14T22:05Z","n":16.3},{"c":"a2","t":"2012-07-14T22:48Z","n":23.0},{"c":"a2","t":"2012-07-14T23:34Z","n":28.6},{"c":"a2","t":"2012-07-15T00:18Z","n":32.4},{"c":"a2","t":"2012-07-15T01:18Z","n":34.0},{"c":"a2","t":"2012-07-15T02:30Z","n":33.6},{"c":"a2","t":"2012-07-15T03:33Z","n":31.9},{"c":"a2","t":"2012-07-15T05:00Z","n":29.3},{"c":"a2","t":"2012-07-15T06:30Z","n":25.9},{"c":"a2","t":"2012-07-15T08:00Z","n":23.0},{"c":"a2","t":"2012-07-15T10:12Z","n":20.1},{"c":"a2","t":"2012-07-15T11:41Z","n":18.7},{"c":"a2","t":"2012-07-15T13:12Z","n":17.5},{"c":"a2","t":"2012-07-15T15:24Z","n":15.6},{"c":"a2","t":"2012-07-15T17:36Z","n":13.9},{"c":"a2","t":"2012-07-15T20:36Z","n":12.0},{"c":"a2","t":"2012-07-15T23:30Z","n":10.5},{"c":"a2","t":"2012-07-16T02:30Z","n":9.1},{"c":"a2","t":"2012-07-16T05:24Z","n":7.6},{"c":"a2","t":"2012-07-16T08:24Z","n":6.3},{"c":"a2","t":"2012-07-16T10:48Z","n":5.2},{"c":"a2","t":"2012-07-16T12:00Z","n":4.8},

  {"c":"a3","t":"2012-07-13T18:00Z","n":3.3},{"c":"a3","t":"2012-07-14T04:00Z","n":4.1},{"c":"a3","t":"2012-07-14T13:30Z","n":4.9},{"c":"a3","t":"2012-07-14T20:00Z","n":5.5},{"c":"a3","t":"2012-07-14T20:36Z","n":7.0},{"c":"a3","t":"2012-07-14T21:18Z","n":10.6},{"c":"a3","t":"2012-07-14T22:05Z","n":16.0},{"c":"a3","t":"2012-07-14T22:48Z","n":22.6},{"c":"a3","t":"2012-07-14T23:51Z","n":29.8},{"c":"a3","t":"2012-07-15T00:44Z","n":32.4},{"c":"a3","t":"2012-07-15T01:18Z","n":33.3},{"c":"a3","t":"2012-07-15T02:24Z","n":32.9},{"c":"a3","t":"2012-07-15T03:33Z","n":30.7},{"c":"a3","t":"2012-07-15T05:00Z","n":27.8},{"c":"a3","t":"2012-07-15T06:30Z","n":24.5},{"c":"a3","t":"2012-07-15T08:00Z","n":22.1},{"c":"a3","t":"2012-07-15T10:12Z","n":19.7},{"c":"a3","t":"2012-07-15T11:41Z","n":18.2},{"c":"a3","t":"2012-07-15T13:12Z","n":17.5},{"c":"a3","t":"2012-07-15T16:06Z","n":16.5},{"c":"a3","t":"2012-07-15T19:06Z","n":15.3},{"c":"a3","t":"2012-07-15T21:18Z","n":14.1},{"c":"a3","t":"2012-07-15T23:30Z","n":12.2},{"c":"a3","t":"2012-07-16T02:30Z","n":10.0},{"c":"a3","t":"2012-07-16T05:24Z","n":7.9},{"c":"a3","t":"2012-07-16T08:24Z","n":6.4},{"c":"a3","t":"2012-07-16T10:48Z","n":5.0},{"c":"a3","t":"2012-07-16T12:00Z","n":4.4},

  {"c":"eq","t":"2012-07-13T18:00Z","n":3.1},{"c":"eq","t":"2012-07-14T04:00Z","n":3.9},{"c":"eq","t":"2012-07-14T13:30Z","n":4.6},{"c":"eq","t":"2012-07-14T20:54Z","n":5.6},{"c":"eq","t":"2012-07-14T22:05Z","n":6.1},{"c":"eq","t":"2012-07-14T22:30Z","n":7.6},{"c":"eq","t":"2012-07-14T22:48Z","n":12.5},{"c":"eq","t":"2012-07-14T23:06Z","n":22.1},{"c":"eq","t":"2012-07-14T23:24Z","n":29.8},{"c":"eq","t":"2012-07-14T23:42Z","n":33.6},{"c":"eq","t":"2012-07-15T00:09Z","n":37.0},{"c":"eq","t":"2012-07-15T00:54Z","n":38.2},{"c":"eq","t":"2012-07-15T01:36Z","n":37.5},{"c":"eq","t":"2012-07-15T02:48Z","n":35.5},{"c":"eq","t":"2012-07-15T04:18Z","n":32.2},{"c":"eq","t":"2012-07-15T05:48Z","n":28.3},{"c":"eq","t":"2012-07-15T07:15Z","n":25.0},{"c":"eq","t":"2012-07-15T08:42Z","n":21.6},{"c":"eq","t":"2012-07-15T10:12Z","n":19.7},{"c":"eq","t":"2012-07-15T11:41Z","n":18.6},{"c":"eq","t":"2012-07-15T13:12Z","n":17.7},{"c":"eq","t":"2012-07-15T15:24Z","n":17.6},{"c":"eq","t":"2012-07-15T17:36Z","n":17.2},{"c":"eq","t":"2012-07-15T19:06Z","n":16.5},{"c":"eq","t":"2012-07-15T20:36Z","n":15.1},{"c":"eq","t":"2012-07-15T22:00Z","n":13.9},{"c":"eq","t":"2012-07-16T00:18Z","n":11.6},{"c":"eq","t":"2012-07-16T02:30Z","n":10.0},{"c":"eq","t":"2012-07-16T05:24Z","n":7.9},{"c":"eq","t":"2012-07-16T08:24Z","n":6.4},{"c":"eq","t":"2012-07-16T10:48Z","n":5.0},{"c":"eq","t":"2012-07-16T12:00Z","n":4.4},

  {"c":"st","t":"2012-07-13T18:00Z","n":2.9},{"c":"st","t":"2012-07-14T04:00Z","n":3.6},{"c":"st","t":"2012-07-14T13:30Z","n":4.3},{"c":"st","t":"2012-07-14T20:00Z","n":5.1},{"c":"st","t":"2012-07-14T20:45Z","n":6.6},{"c":"st","t":"2012-07-14T21:36Z","n":11.4},{"c":"st","t":"2012-07-14T22:24Z","n":17.3},{"c":"st","t":"2012-07-14T23:06Z","n":24.0},{"c":"st","t":"2012-07-14T23:51Z","n":30.0},{"c":"st","t":"2012-07-15T00:44Z","n":33.6},{"c":"st","t":"2012-07-15T01:54Z","n":35.8},{"c":"st","t":"2012-07-15T02:48Z","n":35.5},{"c":"st","t":"2012-07-15T04:18Z","n":33.1},{"c":"st","t":"2012-07-15T05:48Z","n":29.8},{"c":"st","t":"2012-07-15T07:15Z","n":26.4},{"c":"st","t":"2012-07-15T08:42Z","n":23.5},{"c":"st","t":"2012-07-15T10:12Z","n":21.3},{"c":"st","t":"2012-07-15T11:41Z","n":19.4},{"c":"st","t":"2012-07-15T13:12Z","n":18.0},{"c":"st","t":"2012-07-15T15:24Z","n":15.8},{"c":"st","t":"2012-07-15T17:36Z","n":14.0},{"c":"st","t":"2012-07-15T20:36Z","n":12.1},{"c":"st","t":"2012-07-15T23:30Z","n":10.5},{"c":"st","t":"2012-07-16T02:30Z","n":9.1},{"c":"st","t":"2012-07-16T05:24Z","n":7.7},{"c":"st","t":"2012-07-16T08:24Z","n":6.4},{"c":"st","t":"2012-07-16T10:48Z","n":5.3},{"c":"st","t":"2012-07-16T12:00Z","n":4.9}
 ]
},
"vconcat": [
 {
  "width": 1488, "height": 300,
  "data": {"name": "vr"},
  "transform": [{"lookup": "c", "from": {"data": {"name": "names"}, "key": "c", "fields": ["name"]}}],
  "encoding": {
   "x": {"field": "t", "type": "temporal",
     "scale": {"type": "utc", "nice": false, "domain": [{"year":2012,"month":7,"date":13,"hours":18,"utc":true},{"year":2012,"month":7,"date":16,"hours":12,"utc":true}]},
     "axis": {"title": null, "labels": false, "values": [
       {"year":2012,"month":7,"date":13,"hours":18,"utc":true},{"year":2012,"month":7,"date":14,"hours":0,"utc":true},{"year":2012,"month":7,"date":14,"hours":6,"utc":true},{"year":2012,"month":7,"date":14,"hours":12,"utc":true},{"year":2012,"month":7,"date":14,"hours":18,"utc":true},{"year":2012,"month":7,"date":15,"hours":0,"utc":true},{"year":2012,"month":7,"date":15,"hours":6,"utc":true},{"year":2012,"month":7,"date":15,"hours":12,"utc":true},{"year":2012,"month":7,"date":15,"hours":18,"utc":true},{"year":2012,"month":7,"date":16,"hours":0,"utc":true},{"year":2012,"month":7,"date":16,"hours":6,"utc":true},{"year":2012,"month":7,"date":16,"hours":12,"utc":true}]}},
   "y": {"field": "v", "type": "quantitative", "scale": {"domain": [264, 714], "nice": false, "zero": false},
     "axis": {"title": "Vr [km s⁻¹]", "values": [400, 600], "labelFontSize": 42, "titleFontSize": 42, "labelPadding": 5, "titlePadding": 10}},
   "color": {"field": "name", "type": "nominal",
     "scale": {"domain": ["OMNI 1min data","EUHFORIA","AMR Level 2","AMR Level 3","Middle Resolution - No AMR - Equidistant","Middle Resolution - No AMR - Stretching"], "range": ["#000000","#1f77b4","#ff7f0e","#2ca02c","#ffd700","#9467bd"]},
     "legend": {"orient": "none", "legendX": 29, "legendY": -110.5, "columns": 3, "title": null, "labelFontSize": 28, "labelFont": "DejaVu Sans", "labelColor": "black", "labelLimit": 1000, "symbolType": "M-2,0H2", "symbolSize": 841, "labelOffset": 36.5, "columnPadding": 46, "rowPadding": 13.5, "padding": 9, "strokeColor": "#cccccc", "fillColor": "white", "cornerRadius": 5,
       "encode": {"symbols": {"update": {"strokeWidth": {"signal": "datum.value === 'OMNI 1min data' ? 2 : datum.value === 'EUHFORIA' ? 4.2 : datum.value === 'Middle Resolution - No AMR - Equidistant' ? 2.7 : 3"}}}}}},
   "strokeDash": {"field": "name", "type": "nominal",
     "scale": {"domain": ["OMNI 1min data","EUHFORIA","AMR Level 2","AMR Level 3","Middle Resolution - No AMR - Equidistant","Middle Resolution - No AMR - Stretching"], "range": [[1,0],[4.2,7],[1,0],[1,0],[10,4.3],[1,0]]}}
  },
  "layer": [
   {"transform": [{"filter": "datum.c === 'o'"}], "mark": {"type": "line", "clip": true, "strokeWidth": 2}, "encoding": {}},
   {"transform": [{"filter": "datum.c === 'e'"}], "mark": {"type": "line", "clip": true, "strokeWidth": 4.2, "interpolate": "monotone"}, "encoding": {}},
   {"transform": [{"filter": "datum.c === 'a2' || datum.c === 'a3'"}], "mark": {"type": "line", "clip": true, "strokeWidth": 3, "interpolate": "monotone"}, "encoding": {}},
   {"transform": [{"filter": "datum.c === 'eq'"}], "mark": {"type": "line", "clip": true, "strokeWidth": 2.7, "interpolate": "monotone"}, "encoding": {}},
   {"transform": [{"filter": "datum.c === 'st'"}], "mark": {"type": "line", "clip": true, "strokeWidth": 3, "interpolate": "monotone"}, "encoding": {}}
  ]
 },
 {
  "width": 1488, "height": 300,
  "data": {"name": "nd"},
  "transform": [{"lookup": "c", "from": {"data": {"name": "names"}, "key": "c", "fields": ["name"]}}],
  "encoding": {
   "x": {"field": "t", "type": "temporal",
     "scale": {"type": "utc", "nice": false, "domain": [{"year":2012,"month":7,"date":13,"hours":18,"utc":true},{"year":2012,"month":7,"date":16,"hours":12,"utc":true}]},
     "axis": {"title": null, "format": "%Y-%m-%d %H:%M", "labelAngle": -30, "labelAlign": "right", "labelBaseline": "top", "labelFontSize": 28, "labelPadding": 10, "labelOffset": -7, "labelBound": false, "labelLimit": 1000, "values": [
       {"year":2012,"month":7,"date":13,"hours":18,"utc":true},{"year":2012,"month":7,"date":14,"hours":0,"utc":true},{"year":2012,"month":7,"date":14,"hours":6,"utc":true},{"year":2012,"month":7,"date":14,"hours":12,"utc":true},{"year":2012,"month":7,"date":14,"hours":18,"utc":true},{"year":2012,"month":7,"date":15,"hours":0,"utc":true},{"year":2012,"month":7,"date":15,"hours":6,"utc":true},{"year":2012,"month":7,"date":15,"hours":12,"utc":true},{"year":2012,"month":7,"date":15,"hours":18,"utc":true},{"year":2012,"month":7,"date":16,"hours":0,"utc":true},{"year":2012,"month":7,"date":16,"hours":6,"utc":true},{"year":2012,"month":7,"date":16,"hours":12,"utc":true}]}},
   "y": {"field": "n", "type": "quantitative", "scale": {"domain": [-1.73, 41.4], "nice": false, "zero": false},
     "axis": {"title": "N [cm⁻³]", "values": [0, 20, 40], "labelFontSize": 42, "titleFontSize": 42, "labelPadding": 5, "titlePadding": 10}},
   "color": {"field": "name", "type": "nominal",
     "scale": {"domain": ["OMNI 1min data","EUHFORIA","AMR Level 2","AMR Level 3","Middle Resolution - No AMR - Equidistant","Middle Resolution - No AMR - Stretching"], "range": ["#000000","#1f77b4","#ff7f0e","#2ca02c","#ffd700","#9467bd"]},
     "legend": {"orient": "none", "legendX": 29, "legendY": -110.5, "columns": 3, "title": null, "labelFontSize": 28, "labelFont": "DejaVu Sans", "labelColor": "black", "labelLimit": 1000, "symbolType": "M-2,0H2", "symbolSize": 841, "labelOffset": 36.5, "columnPadding": 46, "rowPadding": 13.5, "padding": 9, "strokeColor": "#cccccc", "fillColor": "white", "cornerRadius": 5,
       "encode": {"symbols": {"update": {"strokeWidth": {"signal": "datum.value === 'OMNI 1min data' ? 2 : datum.value === 'EUHFORIA' ? 4.2 : datum.value === 'Middle Resolution - No AMR - Equidistant' ? 2.7 : 3"}}}}}},
   "strokeDash": {"field": "name", "type": "nominal",
     "scale": {"domain": ["OMNI 1min data","EUHFORIA","AMR Level 2","AMR Level 3","Middle Resolution - No AMR - Equidistant","Middle Resolution - No AMR - Stretching"], "range": [[1,0],[4.2,7],[1,0],[1,0],[10,4.3],[1,0]]}}
  },
  "layer": [
   {"transform": [{"filter": "datum.c === 'o'"}], "mark": {"type": "line", "clip": true, "strokeWidth": 2}, "encoding": {}},
   {"transform": [{"filter": "datum.c === 'e'"}], "mark": {"type": "line", "clip": true, "strokeWidth": 4.2, "interpolate": "monotone"}, "encoding": {}},
   {"transform": [{"filter": "datum.c === 'a2' || datum.c === 'a3'"}], "mark": {"type": "line", "clip": true, "strokeWidth": 3, "interpolate": "monotone"}, "encoding": {}},
   {"transform": [{"filter": "datum.c === 'eq'"}], "mark": {"type": "line", "clip": true, "strokeWidth": 2.7, "interpolate": "monotone"}, "encoding": {}},
   {"transform": [{"filter": "datum.c === 'st'"}], "mark": {"type": "line", "clip": true, "strokeWidth": 3, "interpolate": "monotone"}, "encoding": {}}
  ]
 }
]
}
